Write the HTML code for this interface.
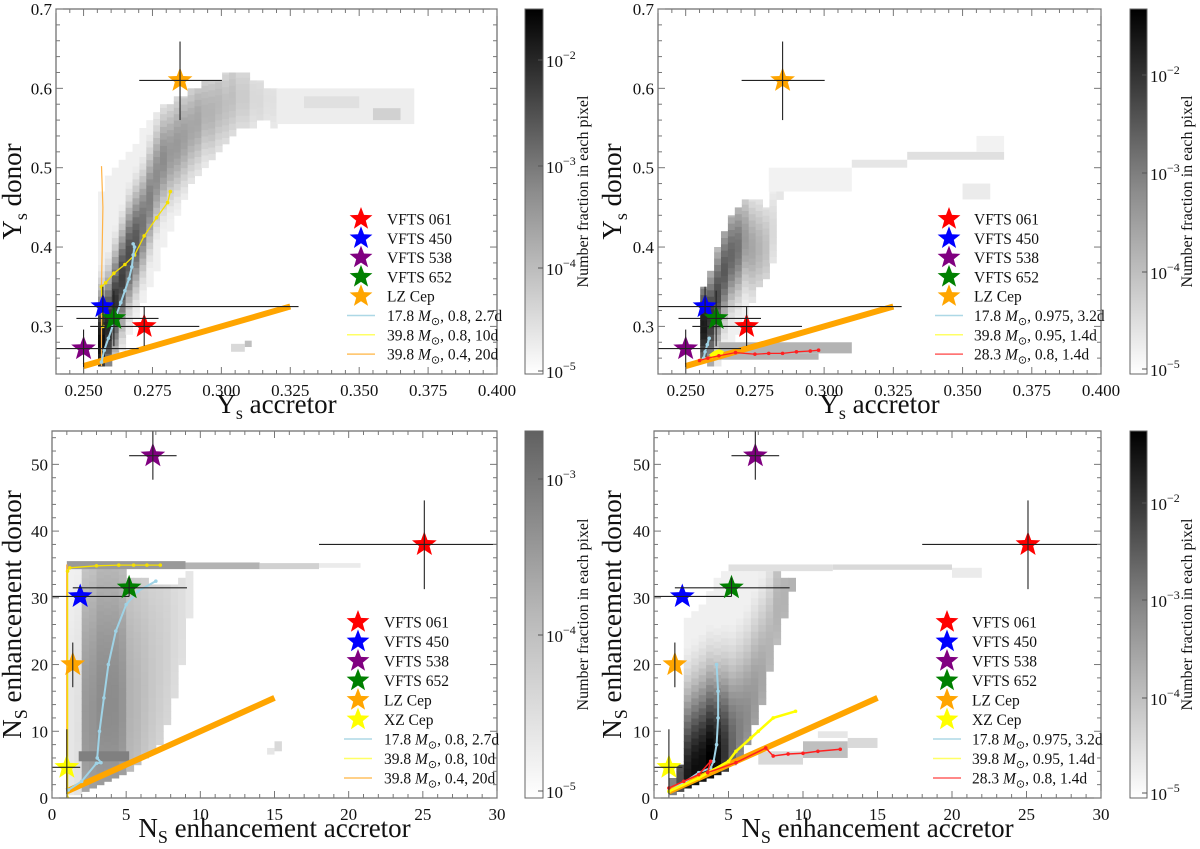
<!DOCTYPE html>
<html><head><meta charset="utf-8">
<style>
html,body{margin:0;padding:0;background:#fff;}
svg{display:block;font-family:"Liberation Serif",serif;}
</style></head>
<body>
<svg id="fig" xmlns="http://www.w3.org/2000/svg" width="1200" height="849" viewBox="0 0 1200 849"></svg>
<script>
// ---------- DATA ----------
const tlColX = [0.2565,0.259,0.2615,0.264,0.2665,0.269,0.2715,0.274,0.2765,0.279,0.2815,0.284,0.2865,0.289,0.2915,0.294,0.2965,0.299,0.3015,0.304,0.3065,0.309,0.3115,0.314,0.3165,0.319];
const tlColLo = [0.25,0.25,0.26,0.27,0.29,0.31,0.33,0.35,0.37,0.40,0.42,0.44,0.46,0.48,0.49,0.50,0.51,0.52,0.53,0.54,0.55,0.55,0.55,0.56,0.56,0.55];
const tlColHi = [0.47,0.49,0.50,0.51,0.52,0.53,0.55,0.56,0.57,0.58,0.58,0.59,0.59,0.60,0.60,0.61,0.61,0.61,0.62,0.62,0.62,0.62,0.61,0.61,0.60,0.60];
const tlColRidge = [0.28,0.30,0.33,0.36,0.39,0.41,0.43,0.46,0.49,0.51,0.52,0.53,0.54,0.55,0.56,0.57,0.57,0.58,0.58,0.59,0.59,0.59,0.59,0.585,0.585,0.585];
const tlColPeak = [0.95,0.85,0.8,0.75,0.7,0.65,0.55,0.5,0.45,0.45,0.4,0.4,0.38,0.35,0.35,0.3,0.3,0.28,0.25,0.25,0.2,0.2,0.15,0.15,0.12,0.12];
const tlBlocks = [[0.32,0.37,0.555,0.60,0.07],[0.33,0.35,0.575,0.59,0.12],[0.355,0.365,0.56,0.575,0.18],[0.3035,0.3085,0.268,0.278,0.15],[0.3085,0.311,0.274,0.282,0.25]];

const trColX = [0.2565,0.259,0.2615,0.264,0.2665,0.269,0.2715,0.274,0.2765,0.279,0.2815,0.284];
const trColLo = [0.26,0.25,0.25,0.26,0.27,0.29,0.31,0.33,0.35,0.36,0.38,0.46];
const trColHi = [0.35,0.37,0.40,0.42,0.44,0.45,0.46,0.46,0.46,0.45,0.47,0.49];
const trColRidge = [0.30,0.31,0.34,0.37,0.39,0.40,0.41,0.40,0.40,0.40,0.42,0.47];
const trColPeak = [0.9,0.8,0.7,0.65,0.6,0.55,0.4,0.35,0.3,0.25,0.15,0.1];
const trBlocks = [[0.28,0.31,0.47,0.50,0.05],[0.31,0.33,0.50,0.51,0.1],[0.33,0.365,0.51,0.52,0.12],[0.35,0.36,0.46,0.48,0.08],[0.355,0.365,0.52,0.54,0.05],[0.262,0.31,0.266,0.28,0.3],[0.262,0.298,0.258,0.266,0.3]];

const blColX = [1.25,1.75,2.25,2.75,3.25,3.75,4.25,4.75,5.25,5.75,6.25,6.75,7.25,7.75,8.25,8.75,9.25];
const blColLo = [0.5,0.5,1,1.5,2,2.5,3,3.5,4,5,6,7,8,11,15,20,27];
const blColHi = [35,35,35,35,35,35,35,35,33,33,33,32,32,32,32,33,34];
const blColRidge = [10,10,12,12,14,14,14,14,15,15,17,18,20,22,25,28,31];
const blColPeak = [0.1,0.12,0.4,0.42,0.45,0.45,0.45,0.42,0.3,0.28,0.25,0.22,0.2,0.18,0.15,0.13,0.1];
const blBlocks = [[1,9,34.3,35.5,0.4],[9,14,34.3,35.3,0.3],[14,18,34.3,35.2,0.18],[18,20.8,34.5,35.2,0.08],[1.8,5.2,5.5,7,0.5],[15,15.5,7,8.5,0.15],[14.5,15,6.5,7.5,0.1]];

const brColX = [1.25,1.75,2.25,2.75,3.25,3.75,4.25,4.75,5.25,5.75,6.25,6.75,7.25,7.75,8.25,8.75,9.25];
const brColLo = [0.5,1,1.5,2,2.5,3,3.5,4,5,6,8,11,14,19,23,27,31];
const brColHi = [3,5,27,28,29,31,33,34,35,34,34,34,34,34,34,33,33];
const brColRidge = [1.5,2,3,4,5,6,6,7,8,10,12,15,18,22,28,30,32];
const brColPeak = [0.5,0.7,0.9,0.95,0.95,1.0,0.95,0.8,0.6,0.5,0.45,0.4,0.35,0.3,0.3,0.3,0.3];
const brBlocks = [[5,12,34,35,0.12],[12,20,34.2,35,0.15],[20,22,33,34.5,0.08],[7,10,5,7,0.15],[10,13,6,8.5,0.25],[13,15,7.5,9,0.15],[11,13,9,10,0.1]];

const starNames = ["VFTS 061","VFTS 450","VFTS 538","VFTS 652","LZ Cep","XZ Cep"];
const starColors = ["#ff0000","#0000ff","#800080","#008000","#ffa500","#ffff00"];
const yStarX = [0.272,0.257,0.250,0.261,0.285];
const yStarY = [0.300,0.325,0.272,0.310,0.610];
const yStarXlo = [0.2524,0.240,0.240,0.2474,0.2702];
const yStarXhi = [0.292,0.328,0.270,0.2772,0.3002];
const yStarYlo = [0.2753,0.300,0.240,0.275,0.560];
const yStarYhi = [0.3256,0.350,0.296,0.345,0.659];
const nStarX = [25.1,1.9,6.8,5.2,1.4,1.0];
const nStarY = [38,30.2,51.3,31.5,20,4.6];
const nStarXlo = [18,0,5.2,1.4,1.4,0];
const nStarXhi = [30,5.2,8.4,9.1,1.4,1.9];
const nStarYlo = [31.3,30.2,47.7,30.2,16.6,0];
const nStarYhi = [44.6,30.2,55,33,23.3,10.3];

const tlBlueX = [0.2565,0.2575,0.2590,0.2605,0.2620,0.2635,0.2650,0.2665,0.2675,0.2680,0.2685,0.2680];
const tlBlueY = [0.255,0.270,0.285,0.300,0.315,0.330,0.345,0.360,0.375,0.390,0.400,0.404];
const tlYelX = [0.2570,0.2565,0.2580,0.2610,0.2650,0.2685,0.2720,0.2765,0.2805,0.2815];
const tlYelY = [0.300,0.350,0.355,0.367,0.378,0.390,0.414,0.437,0.456,0.470];
const tlOrX = [0.2565,0.2565,0.2570,0.2565];
const tlOrY = [0.250,0.350,0.450,0.502];
const trBlueX = [0.2565,0.2570,0.2578,0.2585];
const trBlueY = [0.260,0.268,0.277,0.285];
const trYelX = [0.2590,0.2605,0.2620,0.2635];
const trYelY = [0.262,0.266,0.268,0.266];
const trRedX = [0.2550,0.2580,0.2620,0.2680,0.2750,0.2800,0.2850,0.2900,0.2950,0.2980];
const trRedY = [0.257,0.260,0.263,0.267,0.265,0.266,0.266,0.268,0.269,0.270];
const blBlueX = [1.1,2.0,3.0,3.3,3.05,3.2,3.5,3.8,4.3,5.0,5.8,7.0];
const blBlueY = [1.2,2.5,5.2,5.3,6,10,15,20,25,29,31,32.5];
const blYelX = [1.05,1.05,1.2,3.0,4.5,5.5,6.4,7.3];
const blYelY = [0,34,34.5,34.8,34.9,34.9,34.9,34.9];
const blOrX = [1.0,1.0,1.0];
const blOrY = [1,20,35];
const brBlueX = [1,2,3,3.8,4.0,4.2,4.3,4.3,4.2];
const brBlueY = [1,2.3,3.8,4.5,5.5,8,12,16,20];
const brYelX = [1,3,5,5.5,6.5,7,8,9.5];
const brYelY = [1,3,5.5,7,9,10,12,13];
const brRedX = [1,2,3,3.8,3.6,5.5,7.5,8,9,10,11,12.5];
const brRedY = [1.5,2.5,3.5,5.5,3.8,5.3,7.5,6.3,6.6,6.7,7,7.3];

const yTickVals = [0.3,0.4,0.5,0.6,0.7];
const yTickLabels = ["0.3","0.4","0.5","0.6","0.7"];
const yxTickVals = [0.25,0.275,0.3,0.325,0.35,0.375,0.4];
const yxTickLabels = ["0.250","0.275","0.300","0.325","0.350","0.375","0.400"];
const nxTickVals = [0,5,10,15,20,25,30];
const nyTickVals = [0,10,20,30,40,50];

// ---------- DRAW ----------
const NS = "http://www.w3.org/2000/svg";
const svg = document.getElementById('fig');
function mk(tag, attrs, parent){
  const e = document.createElementNS(NS, tag);
  for (const k in attrs) e.setAttribute(k, attrs[k]);
  (parent||svg).appendChild(e);
  return e;
}
function gray(d){ d=Math.max(0,Math.min(1,d)); const v=Math.round(255*(1-d)); return `rgb(${v},${v},${v})`; }
function starPath(cx,cy,R){
  const r=R*0.42; let p="";
  for(let i=0;i<10;i++){ const a=-Math.PI/2+i*Math.PI/5; const rr=i%2?r:R;
    p+=(i?"L":"M")+(cx+rr*Math.cos(a)).toFixed(1)+","+(cy+rr*Math.sin(a)).toFixed(1); }
  return p+"Z";
}

function panel(cfg){
  const g = mk('g',{});
  
  
  const sx = v => cfg.L + (v-cfg.xmin)/(cfg.xmax-cfg.xmin)*(cfg.R-cfg.L);
  const sy = v => cfg.B - (v-cfg.ymin)/(cfg.ymax-cfg.ymin)*(cfg.B-cfg.T);
  const clip = 'clip-'+cfg.name;
  const cp = mk('clipPath',{id:clip},g); mk('rect',{x:cfg.L,y:cfg.T,width:cfg.R-cfg.L,height:cfg.B-cfg.T},cp);
  const plot = mk('g',{'clip-path':`url(#${clip})`},g);
  const hm = mk('g',{},plot);
  
  
  for(let i=0;i<cfg.colX.length;i++){
    for(let y=cfg.colLo[i]; y<cfg.colHi[i]-1e-9; y+=cfg.ch){
      const t=(y+cfg.ch/2-cfg.colRidge[i])/cfg.sig;
      const d=Math.max(0.06, cfg.colPeak[i]*Math.exp(-t*t));
      const x0=sx(cfg.colX[i]-cfg.cw/2), x1=sx(cfg.colX[i]+cfg.cw/2);
      const c = mk('rect',{x:x0.toFixed(1),y:sy(Math.min(y+cfg.ch,cfg.colHi[i])).toFixed(1),width:(x1-x0+0.5).toFixed(1),height:(sy(y)-sy(Math.min(y+cfg.ch,cfg.colHi[i]))+0.5).toFixed(1),fill:gray(d)},hm);
      
      
    }
  }
  cfg.blocks.forEach(b=>{
    const c = mk('rect',{x:sx(b[0]),y:sy(b[3]),width:sx(b[1])-sx(b[0]),height:sy(b[2])-sy(b[3]),fill:gray(b[4])},hm);
    
    
  });
  const dl = mk('line',{x1:sx(cfg.diag[0]),y1:sy(cfg.diag[0]),x2:sx(cfg.diag[1]),y2:sy(cfg.diag[1]),stroke:'#ffa500','stroke-width':6},plot);
  
  
  cfg.tracks.forEach(tr=>{
    const pts = tr.x.map((v,i)=>sx(v).toFixed(1)+","+sy(tr.y[i]).toFixed(1)).join(" ");
    const pl = mk('polyline',{points:pts,fill:'none',stroke:tr.c,'stroke-width':tr.w||1.3},plot);
    
    
    if(tr.dots) tr.x.forEach((v,i)=>{ const d=mk('circle',{cx:sx(v),cy:sy(tr.y[i]),r:1.8,fill:tr.c},plot);
      
       });
  });
  cfg.sx.forEach((v,i)=>{
    const sg = mk('g',{},plot);
    
    
    mk('path',{d:starPath(sx(v),sy(cfg.sy[i]),13),fill:starColors[i]},sg);
    mk('line',{x1:sx(cfg.sxlo[i]),y1:sy(cfg.sy[i]),x2:sx(cfg.sxhi[i]),y2:sy(cfg.sy[i]),stroke:'#222','stroke-width':1.1},sg);
    mk('line',{x1:sx(v),y1:sy(cfg.sylo[i]),x2:sx(v),y2:sy(cfg.syhi[i]),stroke:'#222','stroke-width':1.1},sg);
  });
  mk('rect',{x:cfg.L,y:cfg.T,width:cfg.R-cfg.L,height:cfg.B-cfg.T,fill:'none',stroke:'#666','stroke-width':1.2},g);
  for(let v=cfg.xmin; v<=cfg.xmax+1e-9; v+=cfg.xminor){
    const x=sx(v); const maj = cfg.xt.some(t=>Math.abs(t-v)<1e-6); const L=maj?7:4;
    mk('line',{x1:x,y1:cfg.B,x2:x,y2:cfg.B-L,stroke:'#777'},g);
    mk('line',{x1:x,y1:cfg.T,x2:x,y2:cfg.T+L,stroke:'#777'},g);
  }
  for(let v=cfg.ymin; v<=cfg.ymax+1e-9; v+=cfg.yminor){
    const y=sy(v); const maj = cfg.yt.some(t=>Math.abs(t-v)<1e-6); const L=maj?7:4;
    mk('line',{x1:cfg.L,y1:y,x2:cfg.L+L,y2:y,stroke:'#777'},g);
    mk('line',{x1:cfg.R,y1:y,x2:cfg.R-L,y2:y,stroke:'#777'},g);
  }
  cfg.xt.forEach((v,i)=>{ const t=mk('text',{x:sx(v),y:cfg.B+22,'font-size':17,'text-anchor':'middle',fill:'#111'},g); t.textContent=cfg.xl[i];
      });
  cfg.yt.forEach((v,i)=>{ const t=mk('text',{x:cfg.L-4,y:sy(v)+6,'font-size':17,'text-anchor':'end',fill:'#111'},g); t.textContent=cfg.yl[i];
      });
  const xt = mk('text',{x:(cfg.L+cfg.R)/2,y:cfg.B+39,'font-size':27,'text-anchor':'middle',fill:'#111'},g);
   
  xt.innerHTML = cfg.xtitle;
  const yc=(cfg.T+cfg.B)/2;
  const yt = mk('text',{x:cfg.ytx,y:yc,'font-size':27,'text-anchor':'middle',fill:'#111',transform:`rotate(-90 ${cfg.ytx} ${yc})`},g);
   
  yt.innerHTML = cfg.ytitle;
  const lg = mk('g',{},g);
   
  let row=0;
  for(let i=0;i<cfg.nstars;i++){
    const y=cfg.legY+row*cfg.legDy;
    mk('path',{d:starPath(cfg.legSX,y,12),fill:starColors[i]},lg);
    const t=mk('text',{x:cfg.legTX,y:y+5.5,'font-size':15.5,fill:'#111'},lg); t.textContent=starNames[i];
     
    row++;
  }
  cfg.legLines.forEach(l=>{
    const y=cfg.legY+row*cfg.legDy;
    mk('line',{x1:cfg.legSX-14,y1:y,x2:cfg.legSX+14,y2:y,stroke:l[1],'stroke-width':1.5},lg);
    const t=mk('text',{x:cfg.legTX,y:y+5.5,'font-size':15.5,fill:'#111'},lg);
    t.innerHTML = l[0][0]+' <tspan font-style="italic">M</tspan><tspan font-size="11" dy="4">⊙</tspan><tspan dy="-4">'+l[0][1]+'</tspan>';
     
    row++;
  });
  const cb = mk('g',{},g);
   
  const gid='grad-'+cfg.name;
  const lgd = mk('linearGradient',{id:gid,x1:0,y1:1,x2:0,y2:0},cb);
  mk('stop',{offset:0,'stop-color':'#ffffff'},lgd);
  mk('stop',{offset:0.5,'stop-color':gray(0.45*cfg.cbmax)},lgd);
  mk('stop',{offset:1,'stop-color':gray(cfg.cbmax)},lgd);
  mk('rect',{x:cfg.cbL,y:cfg.T,width:cfg.cbR-cfg.cbL,height:cfg.B-cfg.T,fill:`url(#${gid})`,stroke:'#666','stroke-width':1},cb);
  cfg.cbTicks.forEach(ct=>{
    mk('line',{x1:cfg.cbR-5,y1:ct[0],x2:cfg.cbR,y2:ct[0],stroke:'#555'},cb);
    const t=mk('text',{x:cfg.cbR+3,y:ct[0]+7,'font-size':17,fill:'#111'},cb);
    t.innerHTML='10<tspan font-size="12" dy="-8">−'+ct[1]+'</tspan>';
     
  });
  const cbx=cfg.cbR+45;
  const cl = mk('text',{x:cbx,y:yc,'font-size':16,'text-anchor':'middle',fill:'#111',transform:`rotate(-90 ${cbx} ${yc})`},cb);
  cl.textContent='Number fraction in each pixel';
   
}

const YTITLE_X = 'Y<tspan font-size="18" dy="6">s</tspan><tspan dy="-6"> accretor</tspan>';
const YTITLE_Y = 'Y<tspan font-size="18" dy="6">s</tspan><tspan dy="-6"> donor</tspan>';
const NTITLE_X = 'N<tspan font-size="18" dy="6">S</tspan><tspan dy="-6"> enhancement accretor</tspan>';
const NTITLE_Y = 'N<tspan font-size="18" dy="6">S</tspan><tspan dy="-6"> enhancement donor</tspan>';

const ycommon = {xmin:0.24,xmax:0.40,ymin:0.24,ymax:0.70,T:9,B:374,cw:0.0025,ch:0.008,sig:0.06,
  xt:yxTickVals,xl:yxTickLabels,yt:yTickVals,yl:yTickLabels,xminor:0.005,yminor:0.02,diag:[0.25,0.325],
  xtitle:YTITLE_X,ytitle:YTITLE_Y,sx:yStarX,sy:yStarY,sxlo:yStarXlo,sxhi:yStarXhi,sylo:yStarYlo,syhi:yStarYhi,
  nstars:5,legY:219,legDy:19.3};
const ncommon = {xmin:0,xmax:30,ymin:0,ymax:55,T:431,B:798,cw:0.5,ch:1,
  xt:nxTickVals,xl:nxTickVals.map(String),yt:nyTickVals,yl:nyTickVals.map(String),xminor:1,yminor:2,diag:[1,15],
  xtitle:NTITLE_X,ytitle:NTITLE_Y,sx:nStarX,sy:nStarY,sxlo:nStarXlo,sxhi:nStarXhi,sylo:nStarYlo,syhi:nStarYhi,
  nstars:6,legY:622,legDy:19.5};

panel(Object.assign({},ycommon,{name:'panel-top-left',L:56,R:497,ytx:21,
  colX:tlColX,colLo:tlColLo,colHi:tlColHi,colRidge:tlColRidge,colPeak:tlColPeak,blocks:tlBlocks,
  tracks:[{name:'track-orange',x:tlOrX,y:tlOrY,c:'#ffb347',w:1.2},{name:'track-yellow',x:tlYelX,y:tlYelY,c:'#f5e000',dots:true},{name:'track-lightblue',x:tlBlueX,y:tlBlueY,c:'#9fd3e6',w:2,dots:true}],
  legSX:361,legTX:387,legLines:[[["17.8",", 0.8, 2.7d"],'#add8e6'],[["39.8",", 0.8, 10d"],'#ffff66'],[["39.8",", 0.4, 20d"],'#ffc060']],
  cbL:525,cbR:543,cbmax:1,cbTicks:[[60,2],[166,3],[268,4],[371,5]]}));

panel(Object.assign({},ycommon,{name:'panel-top-right',L:658,R:1101,ytx:621,
  colX:trColX,colLo:trColLo,colHi:trColHi,colRidge:trColRidge,colPeak:trColPeak,blocks:trBlocks,
  tracks:[{name:'track-lightblue',x:trBlueX,y:trBlueY,c:'#9fd3e6',w:2,dots:true},{name:'track-yellow',x:trYelX,y:trYelY,c:'#ffff00',w:5},{name:'track-red',x:trRedX,y:trRedY,c:'#ff2020',dots:true}],
  legSX:949,legTX:974,legLines:[[["17.8",", 0.975, 3.2d"],'#add8e6'],[["39.8",", 0.95, 1.4d"],'#ffff66'],[["28.3",", 0.8, 1.4d"],'#ff6060']],
  cbL:1130,cbR:1147,cbmax:1,cbTicks:[[75,2],[173,3],[272,4],[369,5]]}));

panel(Object.assign({},ncommon,{name:'panel-bottom-left',L:52,R:497,ytx:21,sig:30,
  colX:blColX,colLo:blColLo,colHi:blColHi,colRidge:blColRidge,colPeak:blColPeak,blocks:blBlocks,
  tracks:[{name:'track-orange',x:blOrX,y:blOrY,c:'#ffb347',w:1.5},{name:'track-yellow',x:blYelX,y:blYelY,c:'#f5e000',dots:true},{name:'track-lightblue',x:blBlueX,y:blBlueY,c:'#9fd3e6',w:2,dots:true}],
  legSX:358,legTX:384,legLines:[[["17.8",", 0.8, 2.7d"],'#add8e6'],[["39.8",", 0.8, 10d"],'#ffff66'],[["39.8",", 0.4, 20d"],'#ffc060']],
  cbL:525,cbR:543,cbmax:0.62,cbTicks:[[479,3],[635,4],[791,5]]}));

panel(Object.assign({},ncommon,{name:'panel-bottom-right',L:654,R:1101,ytx:621,sig:12,
  colX:brColX,colLo:brColLo,colHi:brColHi,colRidge:brColRidge,colPeak:brColPeak,blocks:brBlocks,
  tracks:[{name:'track-lightblue',x:brBlueX,y:brBlueY,c:'#9fd3e6',w:2,dots:true},{name:'track-yellow',x:brYelX,y:brYelY,c:'#ffff00',w:2.5,dots:true},{name:'track-red',x:brRedX,y:brRedY,c:'#ff2020',w:1.5,dots:true}],
  legSX:947,legTX:972,legLines:[[["17.8",", 0.975, 3.2d"],'#add8e6'],[["39.8",", 0.95, 1.4d"],'#ffff66'],[["28.3",", 0.8, 1.4d"],'#ff6060']],
  cbL:1130,cbR:1147,cbmax:1,cbTicks:[[503,2],[600,3],[698,4],[793,5]]}));
</script>
</body></html>
